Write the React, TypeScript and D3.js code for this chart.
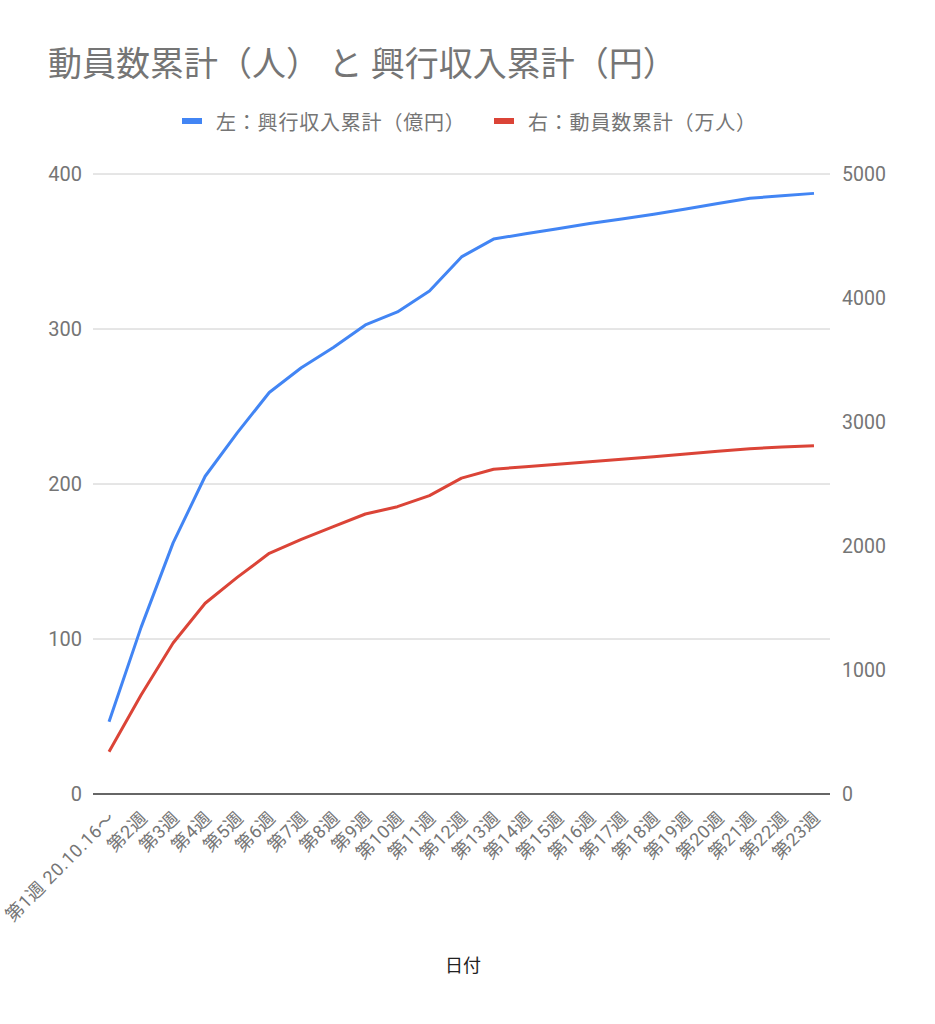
import React from "react";
import * as d3 from "d3";

const weeks = [
  "第1週 20.10.16～", "第2週", "第3週", "第4週", "第5週", "第6週", "第7週", "第8週",
  "第9週", "第10週", "第11週", "第12週", "第13週", "第14週", "第15週", "第16週",
  "第17週", "第18週", "第19週", "第20週", "第21週", "第22週", "第23週",
];
const revenue = [
  46.6, 107.5, 162, 205, 233, 259, 275, 288, 302.6, 311, 324.5, 346.5, 358,
  361.5, 364.7, 368, 371, 374, 377.4, 381, 384.3, 386, 387.5,
];
const attendance = [
  341, 798, 1218, 1538, 1747, 1941, 2054, 2156, 2258, 2317, 2406, 2547, 2619,
  2640, 2660, 2680, 2700, 2720, 2742, 2765, 2785, 2798, 2809,
];
const leftTicks = [0, 100, 200, 300, 400];
const rightTicks = [0, 1000, 2000, 3000, 4000, 5000];
const title = "動員数累計（人） と 興行収入累計（円）";
const legendItems = ["左：興行収入累計（億円）", "右：動員数累計（万人）"];
const xTitle = "日付";

const W = 935, H = 1024;
const plot = { left: 93, right: 830, top: 174, bottom: 794 };
const FONT = "Roboto, 'Noto Sans CJK JP', sans-serif";
const BLUE = "#4285f4";
const RED = "#db4437";
const GREY = "#757575";

export default function App() {
  const x = d3.scalePoint<string>().domain(weeks).range([plot.left, plot.right]).padding(0.5);
  const yL = d3.scaleLinear().domain([0, 400]).range([plot.bottom, plot.top]);
  const yR = d3.scaleLinear().domain([0, 5000]).range([plot.bottom, plot.top]);
  const lineL = d3.line<number>().x((_, i) => x(weeks[i])!).y((d) => yL(d));
  const lineR = d3.line<number>().x((_, i) => x(weeks[i])!).y((d) => yR(d));

  return (
    <svg width={W} height={H} style={{ position: "absolute", left: 0, top: 0, background: "#fff" }} fontFamily={FONT}>
      <rect width={W} height={H} fill="#fff" />
      <text x={48} y={76} fontSize={34} fill={GREY}>{title}</text>
      <g>
        <rect x={182} y={118} width={20} height={6} fill={BLUE} />
        <text x={216} y={130} fontSize={20} letterSpacing={0.8} fill={GREY}>{legendItems[0]}</text>
        <rect x={494} y={118} width={20} height={6} fill={RED} />
        <text x={528} y={130} fontSize={20} letterSpacing={0.8} fill={GREY}>{legendItems[1]}</text>
      </g>
      {leftTicks.filter((t) => t > 0).map((t) => (
        <line key={t} x1={plot.left} x2={plot.right} y1={yL(t)} y2={yL(t)} stroke="#cccccc" strokeWidth={1} />
      ))}
      {leftTicks.map((t) => (
        <text key={t} x={82} y={yL(t)} dy="0.36em" textAnchor="end" fontSize={20} fill={GREY}>{t}</text>
      ))}
      {rightTicks.map((t) => (
        <text key={t} x={842} y={yR(t)} dy="0.36em" textAnchor="start" fontSize={19.5} fill={GREY}>{t}</text>
      ))}
      <line x1={plot.left} x2={plot.right} y1={plot.bottom} y2={plot.bottom} stroke="#333" strokeWidth={1.5} />
      {weeks.map((w) => (
        <text key={w} transform={`translate(${x(w)! + 7.5},${plot.bottom + 25}) rotate(-45)`} textAnchor="end" fontSize={18} letterSpacing={0.6} fill={GREY}>{w}</text>
      ))}
      <path d={lineR(attendance)!} fill="none" stroke={RED} strokeWidth={3} strokeLinejoin="round" />
      <path d={lineL(revenue)!} fill="none" stroke={BLUE} strokeWidth={3} strokeLinejoin="round" />
      <text x={463} y={972} textAnchor="middle" fontSize={18} fill="#222">{xTitle}</text>
    </svg>
  );
}
